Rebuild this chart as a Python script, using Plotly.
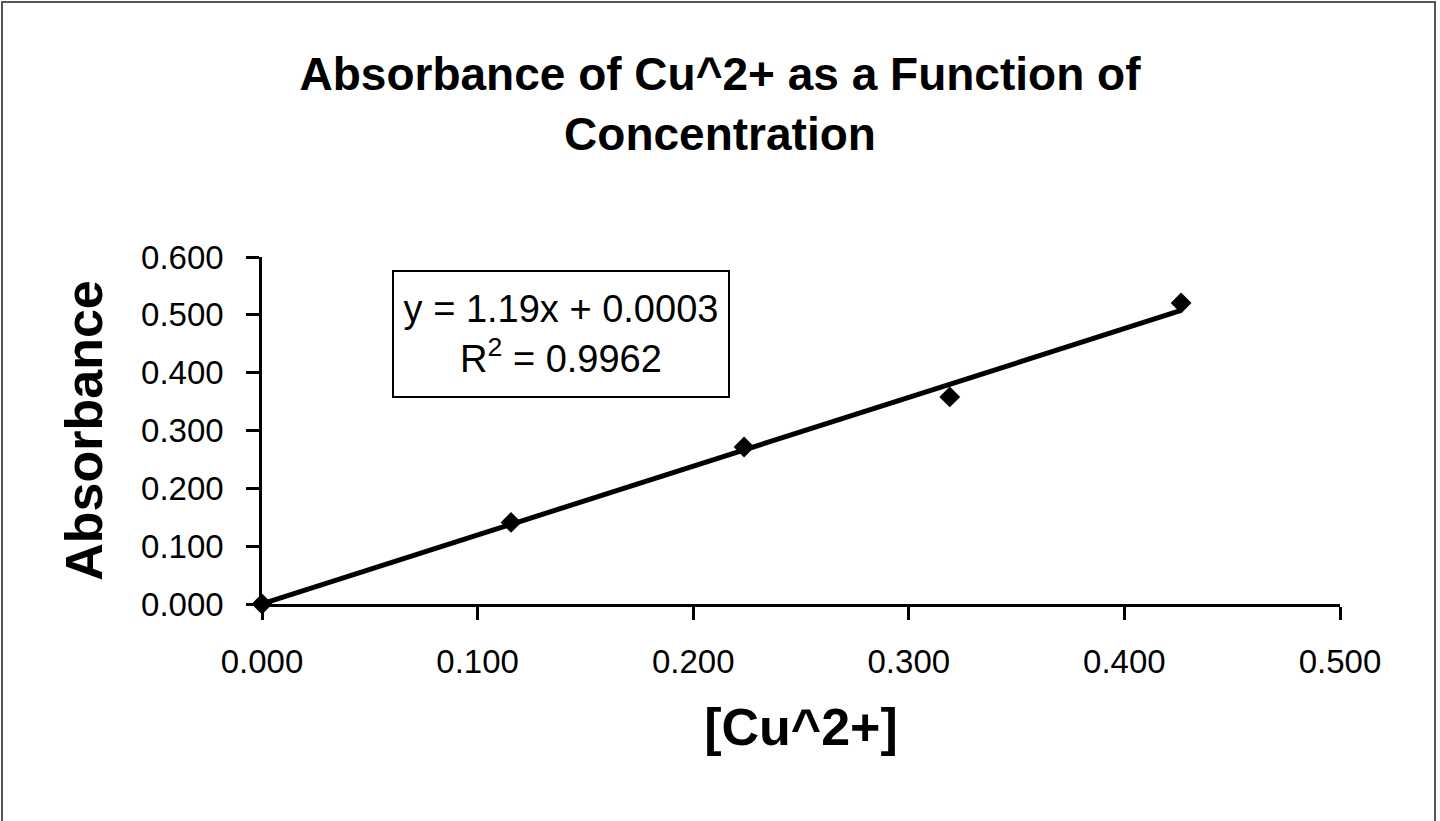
import plotly.graph_objects as go

# Data
conc = [0.000, 0.1155, 0.2236, 0.319, 0.4263]
absorbance = [0.000, 0.141, 0.2715, 0.358, 0.5205]
slope = 1.19
intercept = 0.0003
r_squared = "0.9962"
x_ticks = [0.0, 0.1, 0.2, 0.3, 0.4, 0.5]
y_ticks = [0.0, 0.1, 0.2, 0.3, 0.4, 0.5, 0.6]

FONT = "Liberation Sans, Arial, sans-serif"

trend_x = [0.0, max(conc)]
trend_y = [slope * v + intercept for v in trend_x]

fig = go.Figure()
fig.add_trace(go.Scatter(x=trend_x, y=trend_y, mode="lines", cliponaxis=False,
                         line=dict(color="black", width=5), hoverinfo="skip"))
fig.add_trace(go.Scatter(x=conc, y=absorbance, mode="markers", cliponaxis=False,
                         marker=dict(symbol="diamond", size=16, color="black")))

W, H = 1440, 821
L, R, T, B = 262, 100, 257, 217
pw, ph = W - L - R, H - T - B

def px_x(p):
    return (p - L) / pw

def px_y(p):
    return (H - B - p) / ph

fig.update_layout(
    width=W, height=H,
    margin=dict(l=L, r=R, t=T, b=B, autoexpand=False),
    paper_bgcolor="white", plot_bgcolor="white",
    showlegend=False,
    font=dict(family=FONT, color="black"),
    title=dict(text="<b>Absorbance of Cu^2+ as a Function of<br>Concentration</b>",
               font=dict(family=FONT, size=46, color="black"),
               x=0.5, xanchor="center", xref="container",
               y=1 - 90 / H, yanchor="top", yref="container"),
    xaxis=dict(range=[0, 0.5], tickvals=x_ticks, tickformat=".3f",
               showgrid=False, zeroline=False,
               showline=True, linecolor="black", linewidth=2.5,
               ticks="outside", ticklen=13, tickwidth=2.5, tickcolor="black",
               tickfont=dict(family=FONT, size=33, color="black"),
               ticklabelstandoff=14,
               title=dict(text="<b>[Cu^2+]</b>", standoff=30,
                          font=dict(family=FONT, size=52, color="black"))),
    yaxis=dict(range=[0, 0.6], tickvals=y_ticks, tickformat=".3f",
               showgrid=False, zeroline=False,
               showline=True, linecolor="black", linewidth=2.5,
               ticks="outside", ticklen=13, tickwidth=2.5, tickcolor="black",
               tickfont=dict(family=FONT, size=33, color="black"),
               ticklabelstandoff=16,
               title=dict(text="<b>Absorbance</b>", standoff=22,
                          font=dict(family=FONT, size=52, color="black"))),
)

fig.add_annotation(
    x=px_x(560.5), y=px_y(334), xref="paper", yref="paper",
    xanchor="center", yanchor="middle", showarrow=False,
    text=f"y = {slope}x + {intercept}<br>R<sup>2</sup> = {r_squared}",
    font=dict(family=FONT, size=38, color="black"),
    width=332, height=122, borderpad=1,
    bordercolor="black", borderwidth=2, bgcolor="white", align="center",
)

# outer chart frame
fig.add_shape(type="rect", xref="paper", yref="paper",
              x0=px_x(2), x1=px_x(1435), y0=px_y(2), y1=px_y(840),
              line=dict(color="#555555", width=2), layer="below")

fig.write_html("out.html")
